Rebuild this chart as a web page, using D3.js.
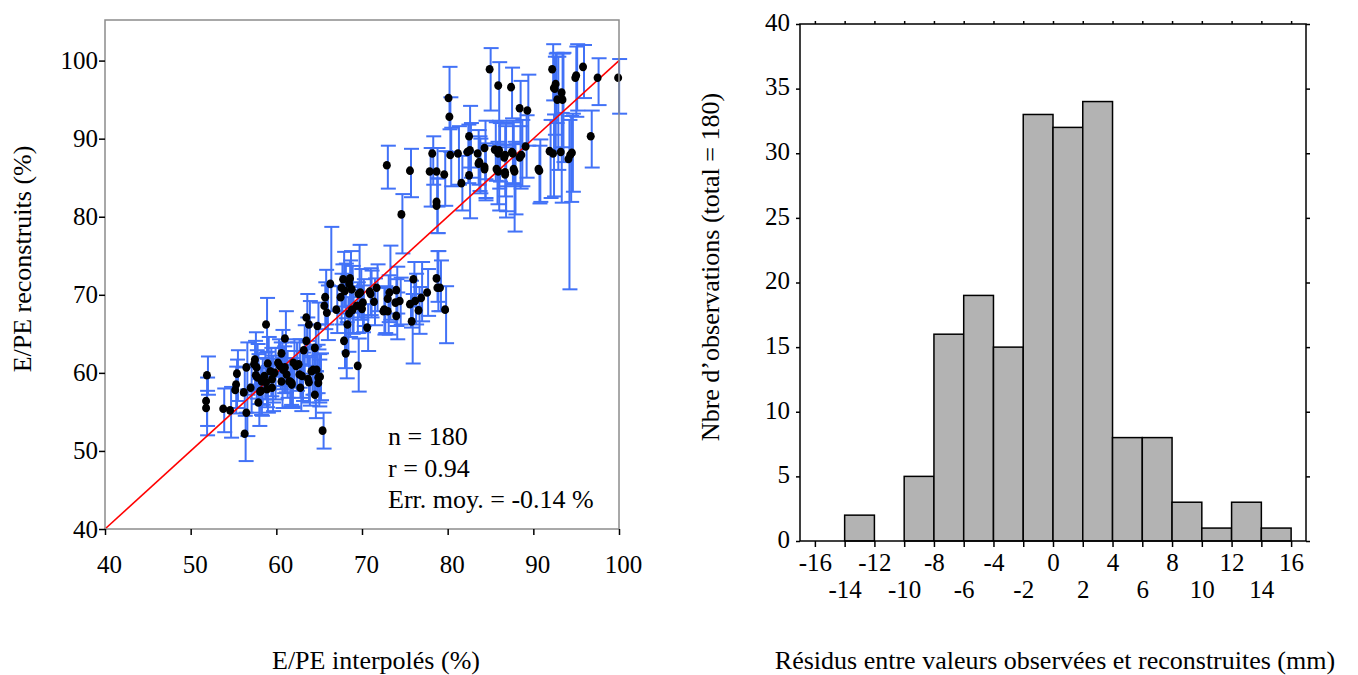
<!DOCTYPE html>
<html><head><meta charset="utf-8">
<script src="https://cdn.jsdelivr.net/npm/d3@7"></script>
<style>
body{margin:0;background:#fff}
svg{display:block;background:#fff}
text{font-family:"Liberation Serif","Times New Roman",serif;fill:#000}
</style>
</head><body>
<svg id="c" width="1358" height="675"></svg>
<script>
// ---------- Scatter: E/PE interpolés vs reconstruits ----------
const interpX = [
  51.9,51.8,51.8,53.8,54.6,55.4,55.3,55.2,56.2,56.5,56.5,56.3,57.0,57.4,57.5,57.7,57.6,57.8,57.9,58.2,58.8,58.6,58.8,59.0,59.3,59.5,59.8,60.2,60.6,61.0,60.8,61.0,61.2,60.6,61.5,61.8,62.0,62.3,62.6,62.7,63.0,62.8,63.2,63.5,63.5,63.8,63.7,63.8,64.1,64.3,64.5,64.7,64.9,65.1,65.4,64.8,58.3,58.1,60.4,59.5,58.9,61.6,61.8,64.5,64.9,
  65.7,65.6,65.9,66.3,67.8,67.6,68.0,68.5,68.6,68.8,67.5,67.0,68.3,67.9,68.1,69.5,68.9,69.4,69.6,69.8,70.1,70.0,70.6,70.9,71.7,71.4,72.6,73.2,73.0,73.9,74.4,74.0,76.0,76.2,75.8,75.6,76.6,76.9,77.6,78.7,78.8,79.1,79.7,68.8,68.5,71.0,74.0,72.5,73.0,
  72.9,75.6,74.6,80.1,80.2,78.2,77.9,78.7,79.6,78.7,78.7,80.3,81.2,81.6,82.5,82.5,82.3,82.6,83.5,83.7,84.3,84.3,85.5,86.0,85.9,86.7,85.7,86.7,87.5,87.7,88.4,88.6,89.1,89.3,90.6,84.9,85.9,87.4,92.2,92.6,92.4,92.5,93.3,93.4,92.8,94.9,95.0,95.8,97.5,99.9,96.7,91.9,92.3,93.2,94.1,94.3,94.5,90.7,88.4,87.6,86.6,85.9,87.8,86.7,84.3,83.6
];
const reconY = [
  59.7,56.4,55.5,55.4,55.2,59.9,58.5,57.8,57.5,60.7,54.9,52.2,58.1,61.1,61.7,60.7,59.7,59.4,56.2,57.7,66.2,59.6,58.8,61.2,60.2,59.2,60.0,61.3,62.5,64.4,60.4,60.7,59.8,58.9,58.9,58.7,61.3,60.9,61.1,59.8,59.6,58.1,62.9,64.1,67.1,66.2,59.2,58.8,60.2,60.4,57.2,60.4,59.4,59.5,52.6,66.0,58.9,57.6,60.9,58.1,57.9,58.9,58.5,63.2,58.7,
  69.7,68.6,67.7,71.4,72.0,70.9,70.5,71.4,72.1,70.7,69.7,68.1,66.2,64.1,62.5,60.9,68.1,68.6,70.1,70.3,69.0,68.2,65.8,70.4,70.9,69.1,68.1,70.3,69.5,69.0,69.2,67.3,72.0,69.2,66.6,68.8,68.0,69.6,70.3,72.1,70.9,70.9,68.1,68.0,67.6,70.1,70.6,67.9,67.9,
  86.6,85.9,80.3,95.2,92.8,88.1,85.8,85.8,85.4,81.9,81.4,87.9,88.1,84.3,90.3,85.3,88.3,88.5,88.1,87.0,88.8,86.4,88.6,88.5,88.1,87.9,86.1,85.7,88.3,86.1,93.9,87.9,89.0,93.6,86.1,98.9,96.8,96.6,98.9,97.0,96.5,96.4,95.9,95.0,95.0,97.8,98.1,99.2,97.8,97.8,90.3,88.4,88.1,88.3,87.4,87.9,88.2,85.9,87.6,88.1,87.6,85.8,85.8,85.4,86.1,86.8
];
const errDown = [
  2.5,3.2,3.5,3.0,3.5,3.5,3.0,3.0,3.0,3.5,3.0,3.5,3.2,3.5,3.2,3.0,3.0,3.4,3.0,3.2,3.5,3.0,3.2,3.0,3.2,3.0,3.4,3.0,3.0,3.4,3.0,3.2,3.0,3.4,3.2,3.0,3.0,3.2,3.0,3.0,3.2,3.0,3.0,3.2,3.0,3.2,3.0,3.0,3.0,3.2,3.0,3.0,3.2,3.0,2.3,3.0,3.0,3.0,3.0,3.0,3.0,3.0,3.0,3.0,3.0,
  3.5,3.0,3.5,3.5,3.5,3.0,3.5,3.0,3.5,3.0,3.5,3.0,3.5,3.5,3.2,3.3,3.0,3.5,3.0,3.5,3.0,3.0,3.0,3.0,3.0,3.0,3.0,3.5,3.0,3.0,3.0,3.0,3.5,3.0,5.4,3.0,3.0,3.0,3.0,3.0,3.0,3.0,4.3,3.0,3.0,3.0,3.0,3.0,3.0,
  3.0,3.4,5.0,4.0,4.5,4.0,4.5,4.5,4.0,4.0,3.5,4.0,4.0,3.5,4.0,5.5,4.0,3.5,4.0,4.0,4.0,4.0,4.0,4.0,4.5,4.0,4.5,5.0,4.0,8.0,4.5,4.0,4.0,4.5,4.4,5.3,4.5,4.0,4.0,5.0,6.0,8.0,7.0,8.0,9.0,5.0,4.5,4.0,3.5,4.6,4.0,6.0,5.5,6.5,16.7,6.0,5.0,4.0,4.0,4.0,5.0,5.0,5.5,5.5,4.0,3.5
];
const errUp = [
  2.4,3.0,2.2,2.6,3.0,3.0,3.2,3.0,3.2,3.2,3.0,2.7,3.0,3.0,3.5,3.0,3.2,3.0,3.0,3.0,3.4,3.0,3.0,3.4,3.0,3.0,3.2,3.0,3.0,3.5,3.0,3.2,3.0,3.0,3.0,3.2,3.0,3.0,3.2,3.0,3.0,3.0,3.2,3.0,3.0,3.0,3.0,3.2,3.0,3.0,3.0,3.2,3.0,3.0,2.3,3.0,3.0,3.0,3.0,3.0,3.0,3.0,3.0,3.0,3.0,
  3.5,3.0,3.5,7.3,3.5,3.0,3.5,3.0,3.5,3.0,3.0,3.0,3.5,3.5,4.0,3.5,3.0,3.0,6.3,3.0,3.0,3.0,3.0,3.0,3.0,3.0,3.0,6.0,3.0,3.0,3.0,3.0,2.2,3.5,3.5,3.0,3.0,4.6,3.0,3.5,4.7,3.5,3.0,3.0,3.0,3.0,3.0,3.0,3.0,
  2.5,2.8,2.6,4.0,2.5,2.2,3.0,3.0,3.0,3.0,3.5,3.5,3.5,3.5,3.9,3.0,3.5,3.5,3.0,3.0,3.5,3.0,3.5,3.5,4.0,4.0,3.5,3.5,4.0,3.5,3.5,4.5,4.0,4.6,3.0,2.7,3.0,2.5,3.2,4.0,4.0,4.5,5.0,6.0,5.5,4.0,4.0,2.8,2.5,2.4,3.3,4.0,5.0,5.0,5.0,5.0,5.0,4.0,4.0,4.0,4.0,3.5,3.5,3.5,3.0,3.5
];
const scatterXTicks = [40,50,60,70,80,90,100];
const scatterYTicks = [40,50,60,70,80,90,100];
const statsLines = ["n = 180", "r = 0.94", "Err. moy. = -0.14 %"];
const scatterXTitle = "E/PE interpolés (%)";
const scatterYTitle = "E/PE reconstruits (%)";

// ---------- Histogram of residuals ----------
const binStart = [-16,-14,-12,-10,-8,-6,-4,-2,0,2,4,6,8,10,12,14];
const binCount = [0,2,0,5,16,19,15,33,32,34,8,8,3,1,3,1];
const binWidth = 2;
const histXTicks = [-16,-14,-12,-10,-8,-6,-4,-2,0,2,4,6,8,10,12,14,16];
const histYTicks = [0,5,10,15,20,25,30,35,40];
const histXTitle = "Résidus entre valeurs observées et reconstruites (mm)";
const histYTitle = "Nbre d’observations (total = 180)";

const svg = d3.select("#c");
const FONT = '"Liberation Serif","Times New Roman",serif';
const fmt = d => String(d);   // plain hyphen-minus like the original
const TICK_FS = 25, TITLE_FS = 26;

// ===== Scatter =====
const sx = d3.scaleLinear().domain([40,100]).range([105,619]);
const sy = d3.scaleLinear().domain([40,105.2]).range([529,20]);
const n = Math.min(interpX.length, reconY.length, errDown.length, errUp.length);
const pts = d3.range(n).map(i => ({x: interpX[i], y: reconY[i], lo: reconY[i]-errDown[i], hi: reconY[i]+errUp[i]}));

const gS = svg.append("g");
const blue = "#4272f7";
const eb = gS.append("g").attr("stroke", blue).attr("stroke-width", 2).attr("fill","none");
pts.forEach(p => {
  const cx = sx(p.x);
  eb.append("line").attr("x1", cx+1).attr("x2", cx+1).attr("y1", sy(p.lo)).attr("y2", sy(p.hi));
  eb.append("line").attr("x1", cx-6).attr("x2", cx+9).attr("y1", sy(p.hi)).attr("y2", sy(p.hi));
  eb.append("line").attr("x1", cx-6).attr("x2", cx+9).attr("y1", sy(p.lo)).attr("y2", sy(p.lo));
});
gS.append("line").attr("x1", sx(40)).attr("y1", sy(40)).attr("x2", sx(100)).attr("y2", sy(100))
  .attr("stroke", "#ff0000").attr("stroke-width", 1.6);
gS.append("g").selectAll("ellipse").data(pts).join("ellipse")
  .attr("cx", d => sx(d.x)).attr("cy", d => sy(d.y)).attr("rx", 4).attr("ry", 4.3).attr("fill", "#000");
gS.append("rect").attr("x", 105).attr("y", 20).attr("width", 619-105).attr("height", 529-20)
  .attr("fill","none").attr("stroke","#8c8c8c").attr("stroke-width",1.5);
const axB = gS.append("g").attr("transform","translate(0,529)")
  .call(d3.axisBottom(sx).tickValues(scatterXTicks).tickSize(6).tickPadding(20).tickFormat(fmt));
const axL = gS.append("g").attr("transform","translate(105,0)")
  .call(d3.axisLeft(sy).tickValues(scatterYTicks).tickSize(6).tickPadding(1).tickFormat(fmt));
[axB, axL].forEach(a => {
  a.select(".domain").remove();
  a.selectAll("line").attr("stroke","#000").attr("stroke-width",1.5);
  a.selectAll("text").attr("font-family", FONT).attr("font-size", TICK_FS).attr("fill","#000");
});
axB.selectAll("text").attr("dx", 4);
gS.append("g").selectAll("text").data(statsLines).join("text")
  .attr("x", 388).attr("y", (d,i) => 445 + i*31.5)
  .attr("font-size", TITLE_FS).text(d => d);
gS.append("text").attr("x", 376).attr("y", 669).attr("text-anchor","middle").attr("font-size",TITLE_FS).text(scatterXTitle);
gS.append("text").attr("transform","translate(31,259) rotate(-90)").attr("text-anchor","middle").attr("font-size",TITLE_FS).text(scatterYTitle);

// ===== Histogram =====
const hx = d3.scaleLinear().domain([-17,17]).range([800,1306]);
const hy = d3.scaleLinear().domain([0,40]).range([541,24]);
const gH = svg.append("g");
gH.append("g").selectAll("rect").data(binStart.map((s,i)=>({s, c: binCount[i]})).filter(d => d.c > 0)).join("rect")
  .attr("x", d => hx(d.s)).attr("width", d => hx(d.s+binWidth)-hx(d.s))
  .attr("y", d => hy(d.c)).attr("height", d => hy(0)-hy(d.c))
  .attr("fill","#b3b3b3").attr("stroke","#000").attr("stroke-width",1.5);
gH.append("rect").attr("x",800).attr("y",24).attr("width",506).attr("height",517)
  .attr("fill","none").attr("stroke","#000").attr("stroke-width",1.5);
const hB = gH.append("g").attr("transform","translate(0,541)")
  .call(d3.axisBottom(hx).tickValues(histXTicks).tickSize(6).tickPadding(8).tickFormat(fmt));
hB.selectAll("text").attr("y", d => (Math.abs(d/2) % 2 === 1) ? 39 : 12);
const hT = gH.append("g").attr("transform","translate(0,24)")
  .call(d3.axisTop(hx).tickValues(histXTicks).tickSize(3).tickFormat(""));
const hL = gH.append("g").attr("transform","translate(800,0)")
  .call(d3.axisLeft(hy).tickValues(histYTicks).tickSize(4).tickPadding(6).tickFormat(fmt));
const hR = gH.append("g").attr("transform","translate(1306,0)")
  .call(d3.axisRight(hy).tickValues(histYTicks).tickSize(4).tickFormat(""));
[hB,hT,hL,hR].forEach(a => {
  a.select(".domain").remove();
  a.selectAll("line").attr("stroke","#000").attr("stroke-width",1.5);
  a.selectAll("text").attr("font-family", FONT).attr("font-size", TICK_FS).attr("fill","#000");
});
hL.selectAll("text").attr("dy","0.25em");
gH.append("text").attr("x", 1055).attr("y", 669).attr("text-anchor","middle").attr("font-size",TITLE_FS).text(histXTitle);
gH.append("text").attr("transform","translate(719,267) rotate(-90)").attr("text-anchor","middle").attr("font-size",TITLE_FS).text(histYTitle);
</script>
</body></html>
